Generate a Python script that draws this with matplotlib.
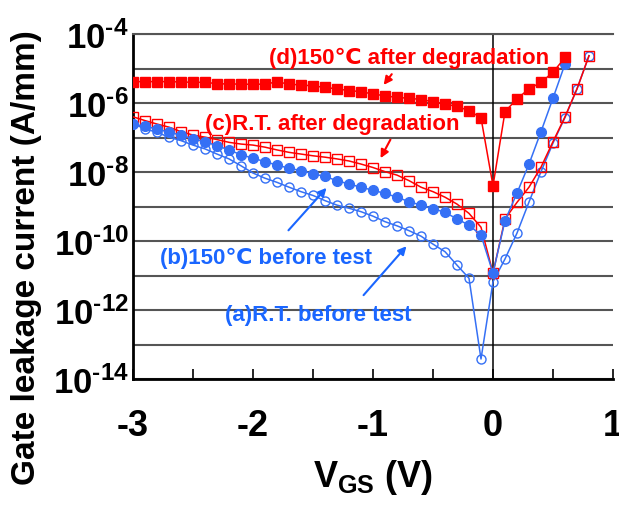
import numpy as np
import matplotlib.pyplot as plt
from matplotlib.ticker import FixedLocator, NullLocator

plt.rcParams['font.family'] = ['Liberation Sans', 'DejaVu Sans']
plt.rcParams['font.weight'] = 'bold'
plt.rcParams['mathtext.fontset'] = 'custom'
plt.rcParams['mathtext.rm'] = 'Liberation Sans:bold'
plt.rcParams['mathtext.it'] = 'Liberation Sans:bold'
plt.rcParams['mathtext.bf'] = 'Liberation Sans:bold'

RED = '#ff0000'
BLUE = '#3570f5'
TXT_BLUE = '#1a66ff'

# gate voltage (V)
vgs_long = [-3.0, -2.9, -2.8, -2.7, -2.6, -2.5, -2.4, -2.3, -2.2, -2.1,
            -2.0, -1.9, -1.8, -1.7, -1.6, -1.5, -1.4, -1.3, -1.2, -1.1,
            -1.0, -0.9, -0.8, -0.7, -0.6, -0.5, -0.4, -0.3, -0.2, -0.1,
            0.0, 0.1, 0.2, 0.3, 0.4, 0.5, 0.6, 0.7, 0.8]
vgs_short = vgs_long[:37]   # series that stop at 0.6 V

# log10 of gate leakage current (A/mm)
log_a = [-6.60, -6.75, -6.85, -6.99, -7.09, -7.22, -7.33, -7.48, -7.62, -7.82,
         -8.03, -8.18, -8.30, -8.44, -8.57, -8.68, -8.83, -8.96, -9.05, -9.15,
         -9.28, -9.44, -9.56, -9.70, -9.86, -10.09, -10.31, -10.70, -11.08, -13.42,
         -11.18, -10.52, -9.77, -8.87, -7.99, -7.16, -6.42, -5.59, -4.63]
log_b = [-6.61, -6.68, -6.75, -6.85, -6.93, -7.04, -7.12, -7.24, -7.36, -7.50,
         -7.60, -7.70, -7.80, -7.89, -7.96, -8.05, -8.13, -8.25, -8.35, -8.44,
         -8.53, -8.62, -8.73, -8.86, -8.96, -9.06, -9.17, -9.36, -9.54, -9.83,
         -10.93, -9.41, -8.61, -7.77, -6.83, -5.86, -4.87]
log_c = [-6.40, -6.51, -6.61, -6.70, -6.83, -6.93, -6.99, -7.06, -7.14, -7.19,
         -7.22, -7.28, -7.36, -7.43, -7.48, -7.53, -7.57, -7.62, -7.68, -7.77,
         -7.87, -7.99, -8.09, -8.25, -8.44, -8.57, -8.73, -8.93, -9.20, -9.60,
         -10.93, -9.36, -8.88, -8.44, -7.86, -7.12, -6.40, -5.59, -4.63]
log_d = [-5.38, -5.38, -5.38, -5.38, -5.39, -5.40, -5.40, -5.44, -5.45, -5.45,
         -5.46, -5.45, -5.39, -5.45, -5.48, -5.50, -5.55, -5.59, -5.64, -5.67,
         -5.74, -5.79, -5.84, -5.86, -5.90, -5.96, -6.03, -6.10, -6.22, -6.43,
         -8.40, -6.25, -5.88, -5.59, -5.40, -5.11, -4.68]

ytick_exp = [-14, -13, -12, -11, -10, -9, -8, -7, -6, -5, -4]
xtick_major = [-3, -2, -1, 0, 1]
xtick_minor = [-2.5, -1.5, -0.5, 0.5]

fig = plt.figure(figsize=(6.19, 5.06), dpi=100)
ax = fig.add_axes([0.2149, 0.249, 0.7754, 0.6818])

ax.plot(vgs_long, 10.0 ** np.array(log_a), '-o', color=BLUE, lw=1.1,
        ms=6.5, mfc='none', mec=BLUE, mew=1.0, zorder=3)
ax.plot(vgs_short, 10.0 ** np.array(log_b), '-o', color=BLUE, lw=1.1,
        ms=7, mfc=BLUE, mec=BLUE, zorder=4)
ax.plot(vgs_long, 10.0 ** np.array(log_c), '-s', color=RED, lw=1.1,
        ms=7, mfc='none', mec=RED, mew=1.0, zorder=3)
ax.plot(vgs_short, 10.0 ** np.array(log_d), '-s', color=RED, lw=1.1,
        ms=7, mfc=RED, mec=RED, zorder=4)

ax.set_yscale('log')
ax.set_xlim(-3, 1)
ax.set_ylim(1e-14, 1e-4)

yt = [10.0 ** e for e in ytick_exp]
ax.yaxis.set_major_locator(FixedLocator(yt))
ax.yaxis.set_minor_locator(NullLocator())
ax.set_yticklabels([r'$10^{\text{-}%d}$' % -e if e % 2 == 0 else ''
                    for e in ytick_exp], fontsize=25)
ax.tick_params(axis='y', length=0, pad=3)
ax.grid(axis='y', color='#555555', lw=1.5)

ax.set_xticks(xtick_major)
ax.set_xticks(xtick_minor, minor=True)
ax.set_xticklabels([str(v) for v in xtick_major], fontsize=26)
ax.tick_params(axis='x', which='both', direction='in', length=7, width=1.2,
               pad=21)
ax.axvline(0, color='black', lw=1.1, zorder=2)

for s in ['left', 'bottom']:
    ax.spines[s].set_linewidth(2)
ax.spines['right'].set_visible(False)
ax.spines['top'].set_color('#555555')
ax.spines['top'].set_linewidth(1.5)

ax.set_xlabel('$V_{GS}$ (V)', fontsize=26, fontweight='bold', labelpad=10)
ax.set_ylabel('Gate leakage current (A/mm)', fontsize=24, fontweight='bold')
ax.yaxis.set_label_coords(-0.19, 0.355)

# annotations
ax.text(-0.70, 10 ** -4.67, '(d)150℃ after degradation', color=RED,
        fontsize=16, ha='center', va='center')
ax.annotate('', xy=(-0.925, 10 ** -5.54), xytext=(-0.83, 10 ** -5.10),
            arrowprops=dict(arrowstyle='-|>', color=RED, lw=1.5,
                            mutation_scale=12))
ax.text(-1.34, 10 ** -6.58, '(c)R.T. after degradation', color=RED,
        fontsize=16, ha='center', va='center')
ax.annotate('', xy=(-0.948, 10 ** -7.67), xytext=(-0.844, 10 ** -6.99),
            arrowprops=dict(arrowstyle='-|>', color=RED, lw=1.5,
                            mutation_scale=12))
ax.text(-1.89, 10 ** -10.49, '(b)150℃ before test', color=TXT_BLUE,
        fontsize=16, ha='center', va='center')
ax.annotate('', xy=(-1.372, 10 ** -8.40), xytext=(-1.72, 10 ** -9.75),
            arrowprops=dict(arrowstyle='-|>', color=TXT_BLUE, lw=1.5,
                            mutation_scale=12))
ax.text(-1.46, 10 ** -12.14, '(a)R.T. before test', color=TXT_BLUE,
        fontsize=16, ha='center', va='center')
ax.annotate('', xy=(-0.706, 10 ** -10.09), xytext=(-1.094, 10 ** -11.63),
            arrowprops=dict(arrowstyle='-|>', color=TXT_BLUE, lw=1.5,
                            mutation_scale=12))

fig.savefig('out.png', dpi=100)
